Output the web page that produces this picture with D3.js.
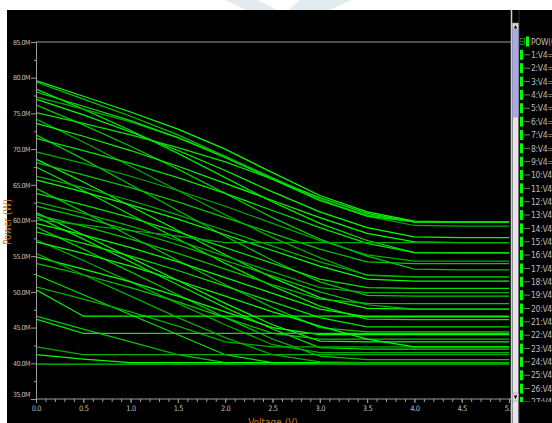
<!DOCTYPE html>
<html>
<head>
<meta charset="utf-8">
<script src="https://cdn.jsdelivr.net/npm/d3@7"></script>
<style>
  html, body { margin: 0; padding: 0; background: #ffffff; }
  svg { display: block; }
  text { font-family: "Liberation Sans Narrow", "DejaVu Sans Condensed", "Liberation Sans", sans-serif; }
</style>
</head>
<body>
<script>
// ---------------- data ----------------
const volts = [0, 0.5, 1.0, 1.5, 2.0, 2.5, 3.0, 3.5, 4.0, 4.5, 5.0];

const xTickLabels = ["0.0","0.5","1.0","1.5","2.0","2.5","3.0","3.5","4.0","4.5","5.0"];
const yTickValues = [35, 40, 45, 50, 55, 60, 65, 70, 75, 80, 85];
const yTickLabels = ["35.0M","40.0M","45.0M","50.0M","55.0M","60.0M","65.0M","70.0M","75.0M","80.0M","85.0M"];

const legendHeader = "POW(0)";
const seriesNames = [
  "1:V4=0","2:V4=500m","3:V4=1","4:V4=1.5","5:V4=2","6:V4=2.5","7:V4=3","8:V4=3.5","9:V4=4","10:V4=4.5",
  "11:V4=5","12:V4=0","13:V4=500m","14:V4=1","15:V4=1.5","16:V4=2","17:V4=2.5","18:V4=3","19:V4=3.5","20:V4=4",
  "21:V4=4.5","22:V4=5","23:V4=0","24:V4=500m","25:V4=1","26:V4=1.5","27:V4=2","28:V4=2.5","29:V4=3","30:V4=3.5",
  "31:V4=4","32:V4=4.5","33:V4=5","34:V4=0","35:V4=500m","36:V4=1","37:V4=1.5","38:V4=2","39:V4=2.5","40:V4=3",
  "41:V4=3.5","42:V4=4"
];

// power (in M units) at each voltage in `volts`
const powerValues = [
  [79.6, 77.4, 75.2, 72.8, 70.0, 66.7, 63.5, 61.2, 59.9, 59.8, 59.8],
  [79.4, 77.0, 74.6, 72.0, 69.0, 65.8, 62.8, 60.8, 59.8, 59.75, 59.75],
  [78.4, 75.6, 72.6, 69.4, 66.0, 62.6, 59.6, 57.2, 55.5, 55.45, 55.45],
  [77.3, 75.6, 73.8, 71.6, 69.0, 66.0, 63.0, 60.6, 59.3, 59.2, 59.2],
  [77.0, 74.8, 72.4, 69.8, 67.0, 64.0, 61.2, 59.0, 57.7, 57.6, 57.6],
  [76.2, 73.4, 70.4, 67.2, 63.8, 60.4, 57.4, 55.0, 53.2, 53.1, 53.1],
  [75.1, 73.6, 72.0, 70.2, 68.2, 65.8, 63.2, 61.0, 59.8, 59.75, 59.75],
  [74.2, 71.0, 67.6, 64.2, 60.8, 57.6, 54.8, 52.3, 52.1, 52.1, 52.1],
  [73.6, 71.8, 69.8, 67.6, 65.2, 62.8, 60.4, 58.2, 57.0, 56.9, 56.9],
  [72.0, 68.6, 65.0, 61.4, 57.8, 54.4, 51.4, 49.5, 49.4, 49.4, 49.4],
  [71.5, 69.8, 68.0, 66.0, 63.8, 61.4, 59.0, 56.8, 55.5, 55.45, 55.45],
  [69.6, 68.0, 66.2, 64.2, 62.0, 59.6, 57.2, 55.2, 54.3, 54.3, 54.3],
  [68.6, 65.4, 62.0, 58.6, 55.2, 52.0, 49.2, 47.7, 47.6, 47.6, 47.6],
  [68.1, 66.4, 64.6, 62.6, 60.4, 58.2, 56.0, 54.2, 53.95, 53.95, 53.95],
  [67.5, 64.2, 60.8, 57.4, 54.0, 50.8, 48.0, 46.2, 46.1, 46.1, 46.1],
  [66.2, 64.6, 62.8, 60.8, 58.6, 56.4, 54.2, 52.4, 52.1, 52.1, 52.1],
  [65.7, 64.0, 62.2, 60.2, 58.0, 55.8, 53.6, 51.8, 51.5, 51.5, 51.5],
  [64.5, 61.2, 57.8, 54.4, 51.0, 47.8, 45.0, 44.4, 44.4, 44.4, 44.4],
  [63.8, 62.2, 60.4, 58.4, 56.2, 54.0, 51.8, 50.6, 50.5, 50.5, 50.5],
  [62.6, 61.0, 59.2, 57.2, 55.0, 52.8, 50.6, 49.9, 49.9, 49.9, 49.9],
  [61.1, 58.0, 54.8, 51.6, 48.4, 45.4, 43.1, 43.0, 43.0, 43.0, 43.0],
  [60.8, 59.2, 57.4, 55.4, 53.2, 51.0, 49.0, 48.4, 48.35, 48.35, 48.35],
  [60.5, 57.4, 54.2, 51.0, 47.8, 44.8, 42.2, 42.0, 42.0, 42.0, 42.0],
  [60.1, 59.4, 58.6, 57.8, 56.9, 56.9, 56.9, 56.9, 56.9, 56.9, 56.9],
  [59.6, 58.0, 56.2, 54.2, 52.0, 49.8, 47.6, 46.5, 46.5, 46.5, 46.5],
  [59.1, 56.0, 52.8, 49.6, 46.4, 43.4, 41.0, 40.5, 40.5, 40.5, 40.5],
  [58.4, 56.8, 55.0, 53.0, 50.8, 48.6, 46.4, 45.1, 45.1, 45.1, 45.1],
  [57.3, 54.4, 51.4, 48.4, 45.4, 42.6, 41.5, 41.5, 41.5, 41.5, 41.5],
  [54.9, 53.2, 51.4, 49.4, 47.2, 45.0, 44.0, 44.0, 44.0, 44.0, 44.0],
  [54.0, 52.4, 50.6, 48.6, 46.4, 44.2, 43.4, 43.4, 43.4, 43.4, 43.4],
  [52.4, 49.6, 46.8, 44.0, 41.2, 40.1, 40.1, 40.1, 40.1, 40.1, 40.1],
  [50.7, 49.0, 47.2, 45.2, 43.0, 42.3, 42.3, 42.3, 42.3, 42.3, 42.3],
  [50.3, 46.6, 46.6, 46.6, 46.6, 46.6, 46.6, 46.6, 46.6, 46.6, 46.6],
  [46.6, 44.8, 43.0, 41.2, 40.1, 40.1, 40.1, 40.1, 40.1, 40.1, 40.1],
  [46.2, 44.2, 44.2, 44.2, 44.2, 44.2, 44.2, 44.2, 44.2, 44.2, 44.2],
  [42.3, 41.2, 41.2, 41.2, 41.2, 41.2, 41.2, 41.2, 41.2, 41.2, 41.2],
  [41.2, 40.6, 40.1, 40.1, 40.1, 40.1, 40.1, 40.1, 40.1, 40.1, 40.1],
  [39.9, 39.9, 39.9, 39.9, 39.9, 39.9, 39.9, 39.9, 39.9, 39.9, 39.9],
  [78.0, 76.0, 74.0, 71.6, 68.8, 65.8, 62.8, 60.6, 59.8, 59.75, 59.75],
  [55.4, 52.4, 49.4, 46.4, 43.6, 41.2, 40.2, 40.1, 40.1, 40.1, 40.1],
  [57.0, 55.4, 53.6, 51.6, 49.4, 47.2, 45.2, 43.4, 42.3, 42.3, 42.3],
  [62.0, 60.4, 58.6, 56.6, 54.4, 52.2, 50.0, 48.2, 47.6, 47.6, 47.6]
];

// ---------------- drawing ----------------
const W = 552, H = 423;
const svg = d3.select("body").append("svg").attr("width", W).attr("height", H);

// faint watermark in the white top strip
svg.append("path")
  .attr("d", "M226,0 L258,0 L284,14 L300,0 L352,0 L292,26 L276,26 Z")
  .attr("fill", "#e2ebf0");

// black panel
svg.append("rect").attr("x", 7).attr("y", 10).attr("width", W - 7).attr("height", H - 10).attr("fill", "#000");

const x = d3.scaleLinear().domain([0, 5]).range([36, 509]);
const y = d3.scaleLinear().domain([35, 85]).range([399, 42]);
const axisColor = "#9c9c9c";
const textColor = "#bdbdbd";

// top frame line
svg.append("line").attr("x1", 36).attr("x2", 511).attr("y1", y(85)).attr("y2", y(85))
  .attr("stroke", axisColor).attr("stroke-width", 1);

// curves
const plot = svg.append("g");
const line = d3.line().x((d, i) => x(volts[i])).y(d => y(d));
const palette = ["#00ff00", "#00c800", "#00e600", "#00b000"];
plot.selectAll("path.s").data(powerValues).join("path")
  .attr("class", "s")
  .attr("d", line)
  .attr("fill", "none")
  .attr("stroke", (d, i) => palette[i % palette.length])
  .attr("stroke-width", 1.25);

// y axis
const yMinor = d3.range(37.5, 85, 5);
svg.append("g").attr("transform", "translate(36,0)")
  .call(d3.axisLeft(y).tickValues(yMinor).tickSize(2).tickFormat(""))
  .call(g => g.select(".domain").remove())
  .call(g => g.selectAll("line").attr("stroke", axisColor));
const yAxis = svg.append("g").attr("transform", "translate(36,0)")
  .call(d3.axisLeft(y).tickValues(yTickValues).tickSize(5).tickPadding(1)
        .tickFormat((d, i) => yTickLabels[i]));
yAxis.select(".domain").attr("stroke", axisColor);
yAxis.selectAll("line").attr("stroke", axisColor);
yAxis.selectAll("text").attr("fill", textColor).attr("font-size", 7)
  .attr("letter-spacing", "-0.5").attr("dy", (d) => d === 35 ? "-0.35em" : "0.32em");

// x axis
const xMinor = d3.range(0, 5.01, 0.1);
svg.append("g").attr("transform", "translate(0,399)")
  .call(d3.axisBottom(x).tickValues(xMinor).tickSize(3).tickFormat(""))
  .call(g => g.select(".domain").remove())
  .call(g => g.selectAll("line").attr("stroke", axisColor));
const xAxis = svg.append("g").attr("transform", "translate(0,399)")
  .call(d3.axisBottom(x).tickValues(volts).tickSize(4).tickPadding(3)
        .tickFormat((d, i) => xTickLabels[i]));
xAxis.select(".domain").attr("stroke", axisColor).attr("d", "M36,0H511");
xAxis.selectAll("line").attr("stroke", axisColor);
xAxis.selectAll("text").attr("fill", textColor).attr("font-size", 7.5).attr("letter-spacing", "-0.4");

// axis titles
const orange = "#c27a2c";
svg.append("text").attr("x", 273).attr("y", 426).attr("text-anchor", "middle")
  .attr("fill", orange).attr("font-size", 10).text("Voltage (V)");
svg.append("text").attr("transform", "translate(11,222) rotate(-90)").attr("text-anchor", "middle")
  .attr("fill", orange).attr("font-size", 10).text("Power (W)");

// divider + scrollbar
svg.append("line").attr("x1", 511.5).attr("x2", 511.5).attr("y1", 10).attr("y2", H)
  .attr("stroke", "#cfcfcf").attr("stroke-width", 1.5);
const sb = svg.append("g");
sb.append("rect").attr("x", 512.5).attr("y", 23).attr("width", 6).attr("height", H - 23).attr("fill", "#e6e6ea");
sb.append("rect").attr("x", 512.5).attr("y", 23).attr("width", 6).attr("height", 7).attr("fill", "#d8d8d8").attr("stroke", "#999").attr("stroke-width", 0.5);
sb.append("path").attr("d", "M513.8,28.5 L515.5,25 L517.2,28.5 Z").attr("fill", "#000");
sb.append("rect").attr("x", 512.5).attr("y", 30).attr("width", 6).attr("height", 87).attr("fill", "#aaaae2").attr("stroke", "#8c8cc8").attr("stroke-width", 0.5);
sb.append("rect").attr("x", 512.5).attr("y", 393).attr("width", 6).attr("height", 8).attr("fill", "#d8d8d8").attr("stroke", "#999").attr("stroke-width", 0.5);
sb.append("path").attr("d", "M513.8,395.5 L517.2,395.5 L515.5,399 Z").attr("fill", "#000");
sb.append("line").attr("x1", 519).attr("x2", 519).attr("y1", 10).attr("y2", H).attr("stroke", "#666").attr("stroke-width", 0.5);

// legend
svg.append("clipPath").attr("id", "lgclip").append("rect")
  .attr("x", 519.5).attr("y", 30).attr("width", 40).attr("height", 372);
const lg = svg.append("g").attr("clip-path", "url(#lgclip)");
const step = 13.35, y0 = 41.5;
lg.append("rect").attr("x", 520).attr("y", y0 - 3).attr("width", 4.5).attr("height", 6)
  .attr("fill", "none").attr("stroke", "#00b400").attr("stroke-width", 0.8);
lg.append("line").attr("x1", 521).attr("x2", 523.5).attr("y1", y0).attr("y2", y0).attr("stroke", "#00b400").attr("stroke-width", 0.8);
lg.append("rect").attr("x", 526).attr("y", y0 - 5).attr("width", 3).attr("height", 10).attr("fill", "#00ff00");
lg.append("text").attr("x", 531).attr("y", y0 + 3).attr("fill", textColor).attr("font-size", 8.5)
  .attr("letter-spacing", "-0.3").text(legendHeader);
const items = lg.selectAll("g.it").data(seriesNames).join("g").attr("class", "it")
  .attr("transform", (d, i) => `translate(0,${y0 + (i + 1) * step})`);
items.append("rect").attr("x", 520).attr("y", -5).attr("width", 3).attr("height", 10).attr("fill", "#00ff00");
items.append("line").attr("x1", 524).attr("x2", 530).attr("y1", 0).attr("y2", 0).attr("stroke", "#9a9a9a").attr("stroke-width", 0.8);
items.append("text").attr("x", 531).attr("y", 3.2).attr("fill", textColor).attr("font-size", 8.5)
  .attr("letter-spacing", "-0.3").text(d => d);
</script>
</body>
</html>
